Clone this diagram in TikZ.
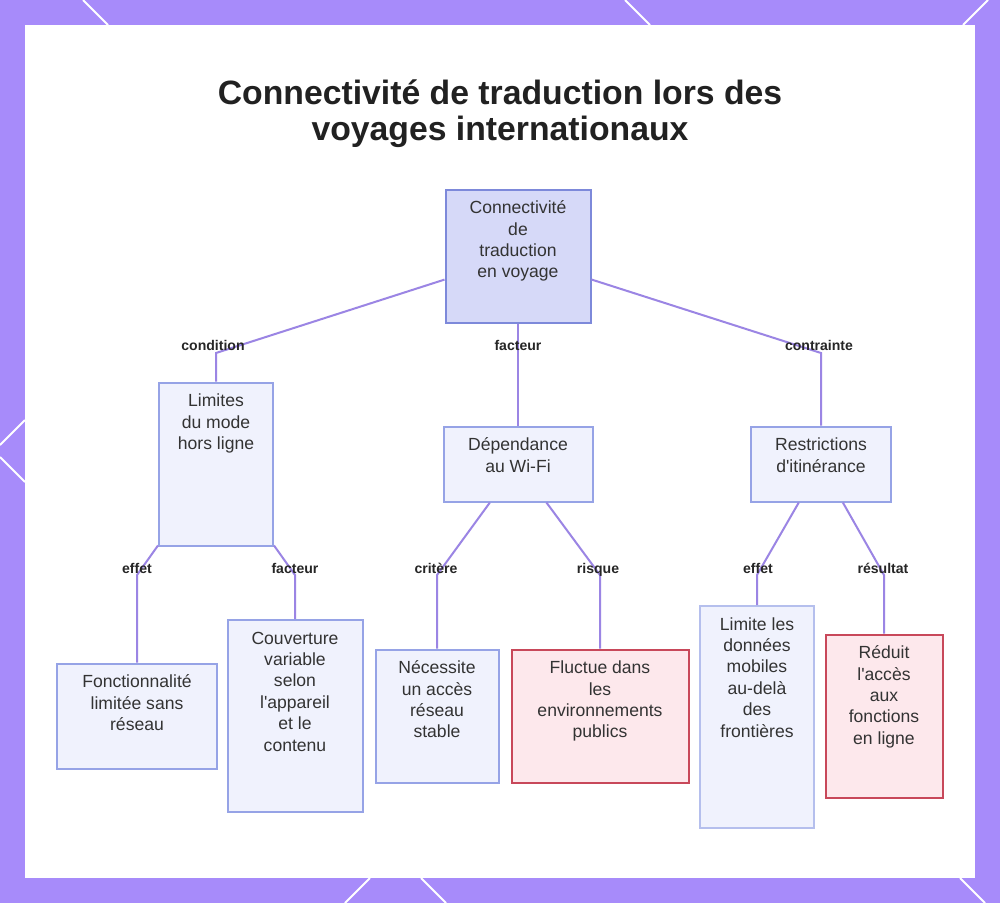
\documentclass[tikz,border=0pt]{standalone}
\usepackage{fontspec}
\setmainfont{Liberation Sans}
\usetikzlibrary{positioning}

\definecolor{framecol}{RGB}{167,139,250}
\definecolor{linkcol}{RGB}{155,133,228}
\definecolor{rootfill}{RGB}{214,217,248}
\definecolor{rootline}{RGB}{125,137,218}
\definecolor{boxfill}{RGB}{240,242,253}
\definecolor{boxline}{RGB}{150,163,230}
\definecolor{riskfill}{RGB}{253,232,236}
\definecolor{riskline}{RGB}{200,72,90}
\definecolor{txtcol}{RGB}{51,51,51}

% box text: width, height (px), lines
\newcommand{\btext}[3]{\parbox[t][\dimexpr0.25mm*#2\relax][t]{\dimexpr0.25mm*#1\relax}{\centering\vspace*{2.3mm}\strut#3\par}}

\begin{document}
\begin{tikzpicture}[
    x=0.25mm, y=-0.25mm,
    box/.style={draw=boxline, fill=boxfill, line width=0.5mm, inner sep=0pt, text=txtcol, font=\fontsize{12.5}{15.2}\selectfont},
    rootbox/.style={box, draw=rootline, fill=rootfill},
    riskbox/.style={box, draw=riskline, fill=riskfill},
    lbl/.style={inner sep=1pt, text height=1.6ex, text depth=0.4ex, text=black!85, font=\bfseries\fontsize{10}{12}\selectfont},
    link/.style={draw=linkcol, line width=0.5mm},
    title/.style={align=center, text=black!87, font=\bfseries\fontsize{24}{25.5}\selectfont}
]
\useasboundingbox (0,0) rectangle (1000,903);

% Frame
\fill[framecol] (0,0) rectangle (1000,903);
\draw[white, line width=0.5mm] (83,0) -- (108,25);
\draw[white, line width=0.5mm] (625,0) -- (650,25);
\draw[white, line width=0.5mm] (988,0) -- (963,25);
\draw[white, line width=0.5mm] (25,420) -- (0,445);
\draw[white, line width=0.5mm] (0,457) -- (25,482);
\draw[white, line width=0.5mm] (370,878) -- (345,903);
\draw[white, line width=0.5mm] (421,878) -- (446,903);
\draw[white, line width=0.5mm] (960,878) -- (985,903);
\fill[white] (25,25) rectangle (975,878);

% Title
\node[title] (title) at (500,114) {Connectivité de traduction lors des\\voyages internationaux};

% Root
\node[rootbox] (root) at (518,256) {\btext{145}{133}{Connectivité\\de\\traduction\\en voyage}};

% Second level
\node[box] (offline) at (216,464) {\btext{114}{163}{Limites\\du mode\\hors ligne}};
\node[box] (wifi) at (518,464) {\btext{149}{75}{Dépendance\\au Wi-Fi}};
\node[box] (roaming) at (821,464) {\btext{140}{75}{Restrictions\\d\textquotesingle itinérance}};

% Third level
\node[box] (limited) at (137,716) {\btext{160}{105}{Fonctionnalité\\limitée sans\\réseau}};
\node[box] (coverage) at (295,716) {\btext{135}{192}{Couverture\\variable\\selon\\l\textquotesingle appareil\\et le\\contenu}};
\node[box] (stable) at (437,716) {\btext{123}{133}{Nécessite\\un accès\\réseau\\stable}};
\node[riskbox] (public) at (600,716) {\btext{177}{133}{Fluctue dans\\les\\environnements\\publics}};
\node[box, draw=boxline!70] (mobile) at (757,717) {\btext{114}{222}{Limite les\\données\\mobiles\\au-delà\\des\\frontières}};
\node[riskbox] (online) at (884,716) {\btext{117}{163}{Réduit\\l\textquotesingle accès\\aux\\fonctions\\en ligne}};

% Bends
\coordinate (bCond) at (216,353);
\coordinate (bCont) at (821,353);
\coordinate (bEffA) at (137,575);
\coordinate (bFact) at (295,575);
\coordinate (bCrit) at (437,575);
\coordinate (bRisk) at (600,575);
\coordinate (bEffB) at (757,575);
\coordinate (bResu) at (884,575);

% Connections
\draw[link] (root) -- (bCond) -- (offline);
\draw[link] (root) -- (wifi);
\draw[link] (root) -- (bCont) -- (roaming);

\draw[link] (offline) -- (bEffA) -- (limited);
\draw[link] (offline) -- (bFact) -- (coverage);
\draw[link] (wifi) -- (bCrit) -- (stable);
\draw[link] (wifi) -- (bRisk) -- (public);
\draw[link] (roaming) -- (bEffB) -- (mobile);
\draw[link] (roaming) -- (bResu) -- (online);

% Labels
\node[lbl] (lCond) at (213,346) {condition};
\node[lbl] (lFactRoot) at (518,346) {facteur};
\node[lbl] (lCont) at (819,346) {contrainte};
\node[lbl] (lEffA) at (137,569) {effet};
\node[lbl] (lFact) at (295,569) {facteur};
\node[lbl] (lCrit) at (436,569) {critère};
\node[lbl] (lRisk) at (598,569) {risque};
\node[lbl] (lEffB) at (758,569) {effet};
\node[lbl] (lResu) at (883,569) {résultat};

\end{tikzpicture}
\end{document}
